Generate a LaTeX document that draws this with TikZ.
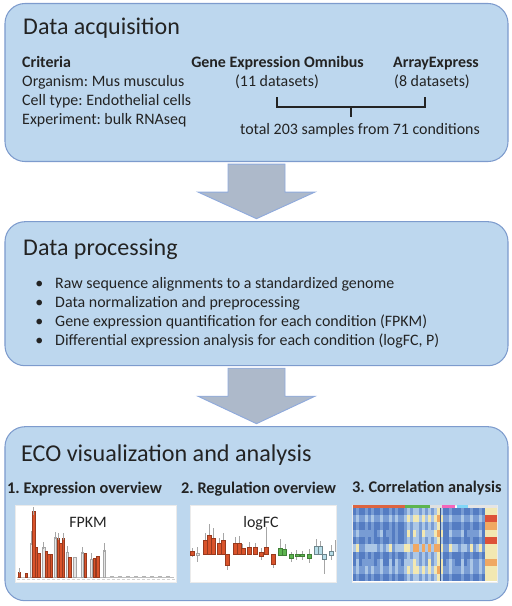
\documentclass[tikz,border=0pt]{standalone}
\usepackage{fontspec}
\setmainfont{Carlito}
\frenchspacing
\usepackage{tikz}
\usetikzlibrary{calc}
\definecolor{boxfill}{RGB}{189,215,238}
\definecolor{boxline}{RGB}{125,155,205}
\definecolor{arrowfill}{RGB}{173,185,202}
\definecolor{arrowline}{RGB}{143,170,220}
\definecolor{ink}{RGB}{35,35,35}
\definecolor{barred}{RGB}{217,83,43}
\definecolor{bargreen}{RGB}{93,181,79}
\definecolor{barcyan}{RGB}{183,221,232}
\definecolor{hm0}{RGB}{84,124,194}
\definecolor{hm1}{RGB}{120,156,212}
\definecolor{hm2}{RGB}{172,199,230}
\definecolor{hm3}{RGB}{242,232,178}
\definecolor{hm4}{RGB}{240,168,98}
\definecolor{hm5}{RGB}{221,82,56}

\begin{document}
\begin{tikzpicture}[x=0.03cm, y=-0.03cm,
    stage/.style={rectangle, rounded corners=0.6cm, draw=boxline, line width=0.9pt, fill=boxfill,
                  minimum width=15.09cm},
    heading/.style={font=\fontsize{20.5}{24}\selectfont, text=ink, anchor=base west, inner sep=0pt},
    body/.style={font=\fontsize{13.6}{16}\selectfont, text=ink, anchor=base west, inner sep=0pt},
    bodyb/.style={body, font=\fontsize{13.6}{16}\selectfont\bfseries},
    subhead/.style={font=\fontsize{13.9}{17}\selectfont\bfseries, text=ink, anchor=base west, inner sep=0pt},
    plotbox/.style={rectangle, fill=white, draw=black!8, line width=0.4pt, inner sep=0pt,
                    minimum height=2.31cm, anchor=north west},
    blockarrow/.style={fill=arrowfill, draw=arrowline, line width=0.8pt},
    bracket/.style={draw=ink, line width=2pt},
    redbar/.style={fill=barred, draw=barred!70!black, line width=0.3pt},
    greybar/.style={fill=black!10, draw=black!35, line width=0.3pt},
    errbar/.style={draw=black!35, line width=0.3pt}
]
    \useasboundingbox (0,0) rectangle (512,606);

    % the three stages
    \node[stage, minimum height=4.74cm] (acq)  at (256.5,82.5) {};
    \node[stage, minimum height=4.32cm] (proc) at (256.5,293.7) {};
    \node[stage, minimum height=5.22cm] (eco)  at (256.5,513.7) {};

    % arrows between stages
    \draw[blockarrow] ($(acq.south)+(-28.5,2)$) -- ++(57,0) -- ++(0,28) -- ++(30,0)
        -- ($(proc.north)+(0,-2.5)$) -- ($(acq.south)+(-58.5,30)$) -- ++(30,0) -- cycle;
    \draw[blockarrow] ($(proc.south)+(-28.5,2)$) -- ++(57,0) -- ++(0,28) -- ++(30,0)
        -- ($(eco.north)+(0,-2.5)$) -- ($(proc.south)+(-58.5,30)$) -- ++(30,0) -- cycle;

    % data acquisition
    \node[heading] (acqtitle) at (23,34) {Data acquisition};
    \node[bodyb] (crit) at (22,67) {Criteria};
    \node[body] (org) at (22,86) {Organism: Mus musculus};
    \node[body] (cell) at (22,105) {Cell type: Endothelial cells};
    \node[body] (expm) at (22,124) {Experiment: bulk RNAseq};
    \node[bodyb, anchor=base] (geo) at (277.5,67) {Gene Expression Omnibus};
    \node[body, anchor=base] (geocount) at (277,86) {(11 datasets)};
    \node[bodyb, anchor=base] (ae) at (436,67) {ArrayExpress};
    \node[body, anchor=base] (aecount) at (432,86) {(8 datasets)};
    \node[body, anchor=base] (total) at (360,134) {total 203 samples from 71 conditions};

    % bracket joining both repositories
    \coordinate (lb) at ($(geocount.base)+(0,21)$);
    \coordinate (rb) at ($(aecount.base)+(-7,21)$);
    \draw[bracket] ($(lb)+(0,-10)$) -- (lb) -- (rb) -- ($(rb)+(0,-10)$);
    \draw[bracket] ($(lb)!0.5!(rb)$) -- ++(0,10);

    % data processing
    \node[heading] (proctitle) at (23,255) {Data processing};
    \node[body, anchor=base] at (39.3,288) {\textbullet};
    \node[body] (align) at (55,288) {Raw sequence alignments to a standardized genome};
    \node[body, anchor=base] at (39.3,307) {\textbullet};
    \node[body] (norm) at (55,307) {Data normalization and preprocessing};
    \node[body, anchor=base] at (39.3,326) {\textbullet};
    \node[body] (quant) at (55,326) {Gene expression quantification for each condition (FPKM)};
    \node[body, anchor=base] at (39.3,345) {\textbullet};
    \node[body] (diff) at (55,345) {Differential expression analysis for each condition (logFC, P)};

    % visualization and analysis
    \node[heading, font=\fontsize{20.6}{25}\selectfont] (ecotitle) at (21,461) {ECO visualization and analysis};
    \node[subhead] (sub1) at (7,493.5) {1. Expression overview};
    \node[subhead] (sub2) at (181,493.5) {2. Regulation overview};
    \node[subhead] (sub3) at (352,492) {3. Correlation analysis};
    \node[plotbox, minimum width=4.83cm] (fpkmplot) at (15,505) {};
    \node[plotbox, minimum width=4.38cm] (logfcplot) at (190,505) {};
    \node[plotbox, minimum width=4.35cm] (corrplot) at (352,505) {};

    % expression overview
    \draw[black!25, line width=0.3pt] (17,577) -- (174,577);
    \foreach \x in {17,22,...,172}
        \draw[black!18, line width=0.6pt] (\x,579.5) -- ++(3,0);
    \foreach \x in {110,118,...,170}
        \draw[black!30, line width=0.5pt] (\x,576) -- ++(4,0);
    \foreach \x/\t in {29.7/543, 42.3/547, 54/537, 65.7/552, 73.3/557, 81/552, 90/559, 103/550}
        \filldraw[greybar] (\x,577) rectangle (\x+2.6,\t);
    \foreach \x/\t in {18/572, 25/573, 32.3/511, 35/547, 37.5/553, 45/551, 47.5/554, 50/554,
                       56.7/538, 59.3/543, 62/538, 68.3/557, 84/553, 93/558, 96.5/556}
        \filldraw[redbar] (\x,577) rectangle (\x+2.6,\t);
    \foreach \x/\t/\b in {33.6/507/515, 31/531/545, 43.6/542/549, 55.3/532/539, 58/533/540,
                          63.3/533/540, 67/546/553, 82.3/547/554, 91.3/553/560, 104.3/543/552, 19.3/568/573}
        \draw[errbar] (\x,\t) -- (\x,\b);
    \node[body, anchor=base] (fpkm) at (88,527) {FPKM};

    % regulation overview
    \foreach \x/\t/\b in {192/548/557, 197.5/547/562, 205/533/545, 209/524/540, 213/528/542, 219/538/548,
                          223/533/545, 227.5/560/570, 235/537/546, 239/536/546, 242.5/544/550, 249/542/550,
                          255/543/552, 261/548/560, 266/527/548, 273/560/568, 280/539/550, 285/544/552,
                          291/552/562, 296.5/550/560, 302/551/560, 309/549/563, 315.7/539/548, 319.7/541/548,
                          324/555/574, 330.7/545/560, 335/540/552}
        \draw[errbar] (\x,\t) -- (\x,\b);
    \filldraw[greybar] (196,553.5) rectangle (199.5,555);
    \foreach \x/\t/\b in {190/551/555, 203/540/554, 207/535/554, 211/538/554, 217.3/543/554, 221.3/540/554,
                          225.3/554/565, 233/543/554, 237/543/554, 241/548/554, 247/547/554, 253/547/554,
                          259/552/556, 263.8/547/554, 271/554/564}
        \filldraw[redbar] (\x,\b) rectangle (\x+4,\t);
    \foreach \x/\t/\b in {278/548/555, 282.5/549.5/555, 288.7/554/558, 294.7/554.5/556, 300.3/554.5/556, 307/554/558}
        \filldraw[fill=bargreen, draw=bargreen!70!black, line width=0.3pt] (\x,\b) rectangle (\x+4,\t);
    \foreach \x/\t/\b in {313.7/546/554, 317.7/546/554, 322/554/559, 328.7/551/555}
        \filldraw[fill=barcyan, draw=barcyan!60!black, line width=0.3pt] (\x,\b) rectangle (\x+4,\t);
    \node[body, anchor=base] (logfc) at (261,527) {logFC};

    % correlation analysis
    \fill[barred!90] (353,505) rectangle (405,507.5);
    \fill[bargreen] (405,505) rectangle (430,507.5);
    \fill[black!12] (430,505) rectangle (442,507.5);
    \fill[magenta!60] (442,505) rectangle (455,507.5);
    \fill[cyan!50] (457,505) rectangle (468,507.5);
    \fill[black!10] (468,505) rectangle (497,507.5);
    \pgfmathsetseed{11}
    \foreach \c in {0,...,43}{
        \foreach \r in {0,...,9}{
            \pgfmathtruncatemacro\k{max(0,min(5,round(
                {0,1,0,0,1,0,1,0,0,1,0,0,1,0,1,0,0,1,2,1,2,2,1,2,1,2,1,2,3,2,0,0,1,0,0,0,1,0,0,1,0,0,1,0}[\c]
                + {0,1,0,0.5,0,1.5,0,0.5,0.8,0}[\r] + 0.5*rnd - 0.25)))}
            \fill[hm\k] (353+3*\c,507.5+7.35*\r) rectangle ++(3.05,7.4);
        }
    }
    \foreach \k [count=\r from 0] in {3,5,4,3,5,3,3,4,3,3}
        \fill[hm\k] (485,507.5+7.35*\r) rectangle ++(12,7.4);
    \draw[hm0!70!black, line width=0.5pt] (440,507.5) -- (440,581);
\end{tikzpicture}
\end{document}
